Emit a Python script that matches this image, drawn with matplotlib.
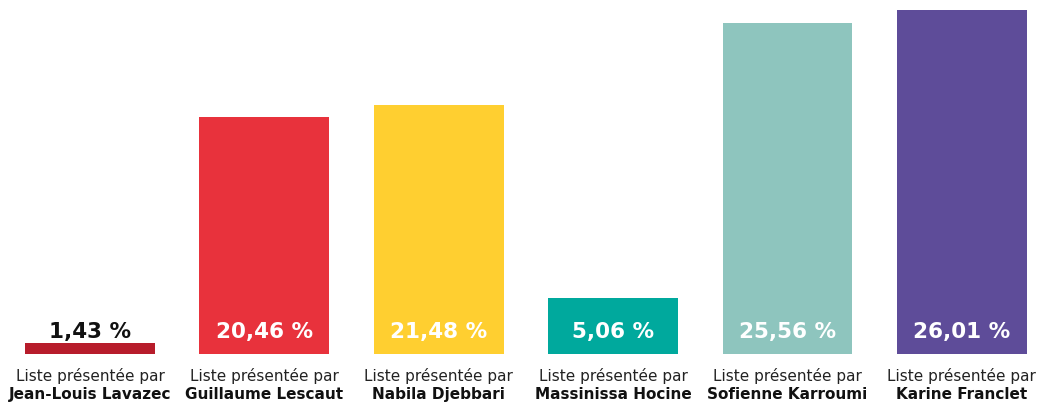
import matplotlib.pyplot as plt

candidates = ["Jean-Louis Lavazec", "Guillaume Lescaut", "Nabila Djebbari",
              "Massinissa Hocine", "Sofienne Karroumi", "Karine Franclet"]
scores = [1.43, 20.46, 21.48, 5.06, 25.56, 26.01]
# bar lengths as drawn in the picture (same % scale, not strictly proportional to the scores)
bar_heights = [0.83, 17.92, 18.83, 4.23, 25.03, 26.01]
colors = ["#B71C2B", "#E8323C", "#FFCF30", "#00A99D", "#8EC5BE", "#5E4C99"]
label_colors = ["#111111", "white", "white", "white", "white", "white"]

fig = plt.figure(figsize=(10.39, 4.04), dpi=100)
ax = fig.add_axes([0, 0, 1, 1])
x = range(len(candidates))
ax.bar(x, bar_heights, width=0.745, color=colors)
ax.set_xlim(-0.516, 5.442)
ax.set_ylim(-3.78, 26.77)
ax.axis("off")

for i in x:
    txt = f"{scores[i]:.2f}".replace(".", ",") + " %"
    ax.annotate(txt, (i, 0), xytext=(0, 15.8), textcoords="offset points",
                ha="center", va="center", fontsize=15.5, fontweight="bold",
                color=label_colors[i])
    ax.annotate("Liste présentée par", (i, 0), xytext=(0, -16), textcoords="offset points",
                ha="center", va="center", fontsize=11, color="#222222")
    ax.annotate(candidates[i], (i, 0), xytext=(0, -29), textcoords="offset points",
                ha="center", va="center", fontsize=11, fontweight="bold", color="#111111")

fig.savefig("out.png", dpi=100)
